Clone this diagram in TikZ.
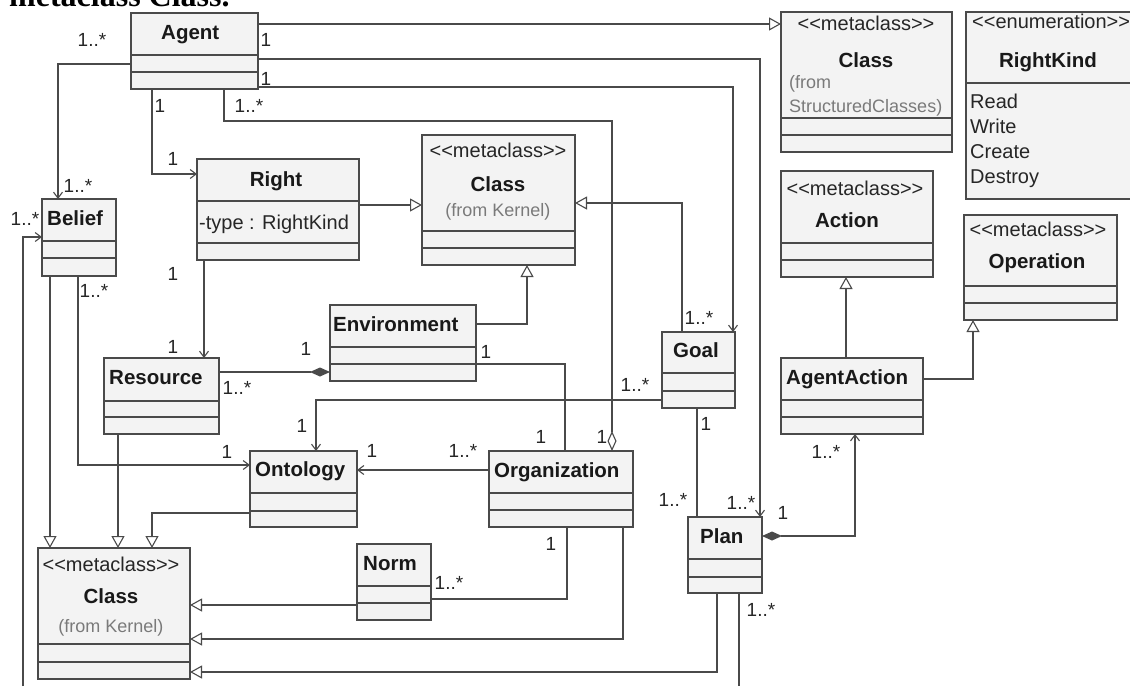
\documentclass[tikz,border=0pt]{standalone}
\usepackage{fontspec}
\setmainfont{Liberation Sans}[Ligatures=TeXOff]
\newfontfamily\headserif{Liberation Serif}
\usetikzlibrary{arrows.meta}

\definecolor{ink}{HTML}{4A4A4A}
\definecolor{boxfill}{HTML}{F3F3F3}
\definecolor{note}{HTML}{7A7A7A}

\tikzset{
  classbox/.style={draw=ink, fill=boxfill, line width=1.1pt, inner sep=0pt, outer sep=0pt},
  sepline/.style={draw=ink, line width=1.1pt},
  cname/.style={font=\fontsize{20.5}{24}\selectfont\bfseries, inner sep=0pt, text=black!90},
  ctext/.style={font=\fontsize{20}{22}\selectfont, inner sep=0pt, text=black!85},
  cnote/.style={font=\fontsize{18}{22}\selectfont, inner sep=0pt, text=note},
  mult/.style={font=\fontsize{19}{22}\selectfont, inner sep=0pt, text=black!85},
  link/.style={draw=ink, line width=1.1pt},
  nav/.style={link, -{Straight Barb[length=6pt,width=9pt]}},
  gen/.style={link, -{Triangle[open,length=12pt,width=13pt,fill=white]}},
  comp/.style={link, {Diamond[length=20pt,width=9pt]}-},
  compnav/.style={link, {Diamond[length=20pt,width=9pt]}-{Straight Barb[length=6pt,width=9pt]}},
  aggr/.style={link, {Diamond[open,length=20pt,width=9pt,fill=white]}-},
}

% stereotype in plain angle brackets
\newcommand\stereo[1]{<\kern0pt<#1>\kern0pt>}

% class box: name, x1, y1, x2, y2, first and second compartment line
\newcommand\umlclass[7]{%
  \node[classbox, minimum width={#4-#2}, minimum height={#5-#3}] (#1) at ({(#2+#4)/2},{(#3+#5)/2}) {};
  \draw[sepline] (#2,#6) -- (#4,#6) (#2,#7) -- (#4,#7);}

\begin{document}
\begin{tikzpicture}[x=1pt, y=-1pt]
\useasboundingbox[fill=white] (0,0) rectangle (1130,686);

% heading line running off the top edge
\node[anchor=base west, inner sep=0pt, font=\headserif\bfseries\fontsize{32}{32}\selectfont] (heading) at (9,6) {metaclass Class.};

% ---------- classes ----------
\umlclass{agent}{131}{13}{258}{89}{55}{72}
\node[cname, anchor=base west] (agent-t) at (161,39) {Agent};

\umlclass{classSC}{781}{12}{952}{152}{118}{135}
\node[ctext, anchor=base] (classSC-s) at (866,30) {\stereo{metaclass}};
\node[cname, anchor=base] (classSC-t) at (866,67) {Class};
\node[cnote, anchor=base west] (classSC-n1) at (789,88) {(from};
\node[cnote, anchor=base west] (classSC-n2) at (789,112) {StructuredClasses)};

\umlclass{rightkind}{966}{12}{1140}{199}{83}{83}
\node[ctext, anchor=base west] (rightkind-s) at (972,28) {\stereo{enumeration}};
\node[cname, anchor=base] (rightkind-t) at (1048,67) {RightKind};
\node[ctext, anchor=base west] (rk-read) at (970,108) {Read};
\node[ctext, anchor=base west] (rk-write) at (970,133) {Write};
\node[ctext, anchor=base west] (rk-create) at (970,158) {Create};
\node[ctext, anchor=base west] (rk-destroy) at (970,183) {Destroy};

\umlclass{right}{197}{159}{359}{260}{201}{243}
\node[cname, anchor=base] (right-t) at (276,186) {Right};
\node[ctext, anchor=base west] (right-a) at (199,229) {-type : RightKind};

\umlclass{classK}{422}{135}{575}{265}{231}{248}
\node[ctext, anchor=base] (classK-s) at (498,157) {\stereo{metaclass}};
\node[cname, anchor=base] (classK-t) at (498,191) {Class};
\node[cnote, anchor=base] (classK-n) at (498,216) {(from Kernel)};

\umlclass{belief}{42}{199}{116}{276}{241}{258}
\node[cname, anchor=base west] (belief-t) at (47,225) {Belief};

\umlclass{action}{781}{171}{933}{277}{243}{260}
\node[ctext, anchor=base] (action-s) at (855,195) {\stereo{metaclass}};
\node[cname, anchor=base] (action-t) at (847,227) {Action};

\umlclass{operation}{964}{215}{1117}{320}{286}{303}
\node[ctext, anchor=base] (operation-s) at (1038,236) {\stereo{metaclass}};
\node[cname, anchor=base] (operation-t) at (1037,268) {Operation};

\umlclass{env}{330}{305}{476}{381}{347}{364}
\node[cname, anchor=base west] (env-t) at (333,331) {Environment};

\umlclass{resource}{104}{358}{219}{434}{401}{417}
\node[cname, anchor=base west] (resource-t) at (109,384) {Resource};

\umlclass{goal}{662}{332}{735}{408}{373}{391}
\node[cname, anchor=base west] (goal-t) at (673,357) {Goal};

\umlclass{agentaction}{781}{358}{923}{434}{400}{417}
\node[cname, anchor=base west] (agentaction-t) at (786,384) {AgentAction};

\umlclass{ontology}{250}{451}{357}{527}{493}{511}
\node[cname, anchor=base west] (ontology-t) at (255,476) {Ontology};

\umlclass{org}{489}{451}{633}{527}{493}{510}
\node[cname, anchor=base west] (org-t) at (494,477) {Organization};

\umlclass{plan}{688}{517}{762}{593}{559}{577}
\node[cname, anchor=base west] (plan-t) at (700,543) {Plan};

\umlclass{norm}{357}{544}{431}{620}{586}{603}
\node[cname, anchor=base west] (norm-t) at (363,570) {Norm};

\umlclass{classB}{38}{548}{190}{679}{644}{662}
\node[ctext, anchor=base] (classB-s) at (111,571) {\stereo{metaclass}};
\node[cname, anchor=base] (classB-t) at (111,603) {Class};
\node[cnote, anchor=base] (classB-n) at (111,632) {(from Kernel)};

% ---------- connectors ----------
\coordinate (beliefsrc) at (23,686);
\coordinate (plansink) at (739,686);

\draw[gen] (agent.east |- 0,24) -- (classSC.west |- 0,24);
\draw[nav] (agent.east |- 0,59) -| (plan.north -| 760,0);
\draw[nav] (agent.east |- 0,87) -| (goal.north -| 733,0);
\draw[aggr] (org.north -| 612,0) -- (612,121) -| (agent.south -| 224,0);
\draw[nav] (agent.south -| 152,0) |- (right.west |- 0,174);
\draw[nav] (agent.west |- 0,64) -| (belief.north -| 58,0);
\draw[nav] (beliefsrc) |- (belief.west |- 0,237);
\draw[gen] (belief.south -| 50,0) -- (classB.north -| 50,0);
\draw[nav] (belief.south -| 78,0) |- (ontology.west |- 0,465);
\draw[gen] (resource.south -| 118,0) -- (classB.north -| 118,0);
\draw[gen] (ontology.west |- 0,513) -| (classB.north -| 152,0);
\draw[gen] (right.east |- 0,205) -- (classK.west |- 0,205);
\draw[nav] (right.south -| 204,0) -- (resource.north -| 204,0);
\draw[gen] (env.east |- 0,324) -| (classK.south -| 527,0);
\draw[comp] (env.west |- 0,372) -- (resource.east |- 0,372);
\draw[link] (env.east |- 0,364) -| (org.north -| 565,0);
\draw[nav] (goal.west |- 0,400) -| (ontology.north -| 316,0);
\draw[nav] (org.west |- 0,470) -- (ontology.east |- 0,470);
\draw[gen] (goal.north -| 682,0) |- (classK.east |- 0,203);
\draw[link] (goal.south -| 697,0) -- (plan.north -| 697,0);
\draw[compnav] (plan.east |- 0,536) -| (agentaction.south -| 855,0);
\draw[gen] (agentaction.north -| 846,0) -- (action.south -| 846,0);
\draw[gen] (agentaction.east |- 0,379) -| (operation.south -| 973,0);
\draw[link] (org.south -| 567,0) |- (norm.east |- 0,599);
\draw[gen] (norm.west |- 0,605) -- (classB.east |- 0,605);
\draw[gen] (org.south -| 623,0) |- (classB.east |- 0,639);
\draw[gen] (plan.south -| 717,0) |- (classB.east |- 0,672);
\draw[link] (plan.south -| 739,0) -- (plansink);

% ---------- multiplicities ----------
\node[mult] (m01) at (92,40) {1..*};
\node[mult] (m02) at (266,40) {1};
\node[mult] (m03) at (266,79) {1};
\node[mult] (m04) at (160,106) {1};
\node[mult] (m05) at (249,106) {1..*};
\node[mult] (m06) at (173,159) {1};
\node[mult] (m07) at (78,186) {1..*};
\node[mult] (m08) at (25,219) {1..*};
\node[mult] (m09) at (94,291) {1..*};
\node[mult] (m10) at (173,274) {1};
\node[mult] (m11) at (173,347) {1};
\node[mult] (m12) at (306,349) {1};
\node[mult] (m13) at (237,388) {1..*};
\node[mult] (m14) at (302,426) {1};
\node[mult] (m15) at (227,452) {1};
\node[mult] (m16) at (372,451) {1};
\node[mult] (m17) at (463,451) {1..*};
\node[mult] (m18) at (486,352) {1};
\node[mult] (m19) at (635,385) {1..*};
\node[mult] (m20) at (699,318) {1..*};
\node[mult] (m21) at (706,424) {1};
\node[mult] (m22) at (541,437) {1};
\node[mult] (m23) at (602,437) {1};
\node[mult] (m24) at (673,500) {1..*};
\node[mult] (m25) at (741,503) {1..*};
\node[mult] (m26) at (783,513) {1};
\node[mult] (m27) at (826,452) {1..*};
\node[mult] (m28) at (761,610) {1..*};
\node[mult] (m29) at (551,544) {1};
\node[mult] (m30) at (449,583) {1..*};
\end{tikzpicture}
\end{document}
